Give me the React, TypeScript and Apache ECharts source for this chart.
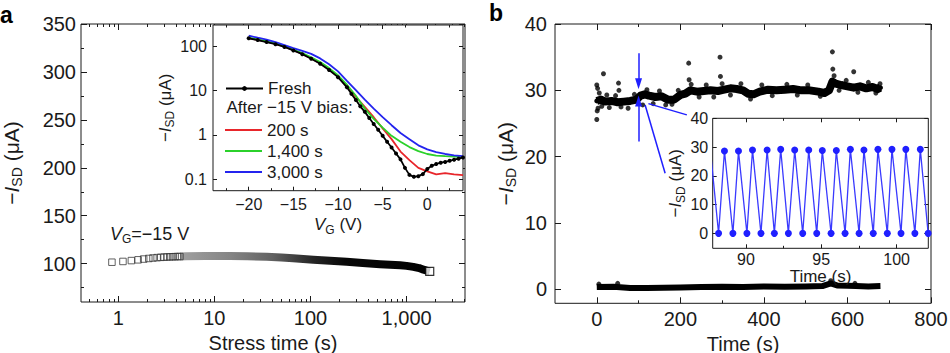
import React, { useEffect, useRef } from 'react';
import * as echarts from 'echarts';

const FONT = '"Liberation Sans", Arial, Helvetica, sans-serif';
const INK = '#1a1a1a';
const RED = '#e8262b';
const GREEN = '#2bd12b';
const BLUE = '#2424ee';
const MARK_BLUE = '#1f1fff';

// ---------- Panel a: drain current vs stress time ----------
const stressSparseT = [0.86, 1.12, 1.37, 1.61, 1.84, 2.08, 2.3, 2.54, 2.77, 3.0, 3.22, 3.44, 3.67, 3.91, 4.14, 4.38];
const stressSparseI = [101.5, 102.3, 103.2, 104, 104.8, 105.4, 105.9, 106.3, 106.6, 106.8, 107, 107.1, 107.2, 107.3, 107.4, 107.4];
const stressBandT = [4.4, 5.1, 8, 14.5, 22, 35, 50, 66, 107, 160, 238, 350, 530, 857, 1000, 1174, 1350, 1500, 1620, 1740];
const stressBandI = [107.4, 107.7, 107.9, 107.9, 107.6, 107.2, 106.4, 105.6, 104.1, 103, 101.9, 100.7, 99.4, 98.3, 97.7, 96.6, 95.4, 93.7, 92.8, 92];
const stressEndT = [1740];
const stressEndI = [92];
const stressLabels = [1, 10, 100, 1000];
const stressMinor = [0.5, 0.6, 0.7, 0.8, 0.9, 2, 3, 4, 5, 6, 7, 8, 9, 20, 30, 40, 50, 60, 70, 80, 90, 200, 300, 400, 500, 600, 700, 800, 900, 2000, 3000, 4000];
const currentALabels = [100, 150, 200, 250, 300, 350];
const currentAMinor = [75, 125, 175, 225, 275, 325];

// ---------- Panel a inset: transfer curves ----------
const gateV = [-20, -19, -18, -17, -16, -15, -14, -13, -12, -11, -10, -9, -8, -7, -6, -5, -4, -3, -2, -1, 0, 1, 2, 3, 4];
const bias200s = [152, 139, 126, 113, 98, 81, 67, 53, 41, 30, 20.5, 12.5, 7.2, 4.3, 2.5, 1.4, 0.8, 0.42, 0.27, 0.18, 0.15, 0.128, 0.137, 0.128, 0.124];
const bias1400s = [155, 142, 129, 116, 101, 84, 70, 56, 44, 32, 22, 13.5, 7.6, 3.9, 2.3, 1.45, 0.95, 0.7, 0.53, 0.43, 0.37, 0.34, 0.33, 0.325, 0.32];
const bias3000s = [172, 155, 140, 124, 106, 90, 78, 67, 53, 39, 27, 16.5, 10.2, 6.2, 3.9, 2.5, 1.65, 1.1, 0.8, 0.58, 0.47, 0.41, 0.37, 0.345, 0.33];
const freshV = [-20, -19, -18, -17, -16, -15, -14, -13, -12, -11, -10, -9, -8.5, -8, -7.5, -7, -6.5, -6, -5.5, -5, -4.5, -4, -3.5, -3, -2.5, -2, -1.5, -1, -0.5, 0, 0.5, 1, 1.5, 2, 2.5, 3, 3.5, 4];
const freshI = [150, 137, 124, 111, 96, 80, 66, 52, 40, 29, 20, 11.8, 8.4, 6.1, 4.4, 3.3, 2.4, 1.75, 1.3, 0.95, 0.7, 0.52, 0.38, 0.28, 0.18, 0.125, 0.113, 0.117, 0.13, 0.17, 0.2, 0.22, 0.235, 0.245, 0.26, 0.275, 0.29, 0.31];
const insetALogLabels = [0.1, 1, 10, 100];
const insetAVLabels = [-20, -15, -10, -5, 0];
const insetAVMinor = [-22.5, -17.5, -12.5, -7.5, -2.5, 2.5];

// ---------- Panel b: current vs time ----------
const onT = [0, 10, 20, 35, 50, 65, 80, 95, 105, 115, 125, 140, 155, 170, 185, 200, 212, 224, 240, 256, 272, 290, 305, 320, 335, 350, 362, 375, 390, 410, 430, 450, 470, 490, 510, 530, 545, 556, 564, 572, 585, 600, 615, 630, 645, 660, 672, 679];
const onI = [28.4, 28.6, 28.3, 28.4, 28.2, 28.3, 28.4, 28.6, 29.2, 29.4, 29.2, 29.0, 29.1, 28.6, 28.6, 29.3, 29.5, 30.0, 29.8, 29.9, 30.0, 29.9, 30.1, 30.3, 30.2, 30.0, 29.5, 29.4, 29.8, 30.1, 30.0, 30.1, 30.2, 30.0, 30.0, 29.8, 29.6, 30.0, 31.3, 31.0, 30.8, 30.6, 30.4, 30.6, 30.3, 30.5, 30.2, 30.4];
const onScatterT = [0, 1, 0, 2, 3, 6, 12, 16, 24, 30, 45, 52, 53, 58, 75, 90, 110, 120, 135, 150, 165, 180, 195, 220, 221, 226, 245, 262, 280, 295, 296, 300, 320, 345, 368, 395, 420, 455, 480, 505, 535, 564, 565, 568, 580, 597, 615, 625, 650, 668, 678];
const onScatterI = [25.6, 26.9, 30.8, 30.3, 27.3, 29.6, 27.6, 32.5, 29.3, 27.4, 29.2, 31.1, 30.0, 27.5, 27.3, 29.4, 27.8, 30.1, 28.0, 29.9, 27.8, 27.9, 30.0, 34.1, 31.6, 30.9, 29.0, 30.8, 29.0, 35.0, 32.1, 31.0, 29.3, 31.0, 28.7, 30.8, 29.2, 30.9, 29.3, 30.8, 29.1, 35.8, 33.2, 32.2, 30.0, 31.5, 32.8, 29.7, 31.2, 29.6, 31.0];
const offT = [0, 40, 80, 120, 160, 200, 250, 300, 350, 400, 450, 500, 540, 560, 575, 600, 620, 650, 679];
const offI = [0.35, 0.4, 0.2, 0.2, 0.25, 0.3, 0.35, 0.4, 0.35, 0.45, 0.4, 0.45, 0.5, 0.9, 0.6, 0.55, 0.5, 0.45, 0.5];
const offScatterT = [5, 50, 560, 618];
const offScatterI = [0.8, 0.9, 1.3, 0.9];
const timeBLabels = [0, 200, 400, 600, 800];
const timeBMinor = [100, 300, 500, 700];
const currentBLabels = [0, 10, 20, 30, 40];

// ---------- Panel b inset: switching ----------
const sweepT = [87.65, 88.19, 88.58, 89.14, 89.51, 90.07, 90.44, 91.0, 91.41, 91.89, 92.31, 92.82, 93.24, 93.77, 94.17, 94.7, 95.07, 95.65, 96.0, 96.58, 96.93, 97.51, 97.83, 98.45, 98.76, 99.38, 99.69, 100.29, 100.61, 101.21, 101.57, 102.09];
const sweepI = [28.8, 0, 28.6, 0, 28.6, 0, 29.0, 0, 29.0, 0, 29.2, 0, 29.0, 0, 29.0, 0, 28.8, 0, 28.8, 0, 29.2, 0, 29.0, 0, 29.2, 0, 29.2, 0, 29.2, 0, 29.2, 0];
const insetBTLabels = [90, 95, 100];
const insetBTMinor = [92.5, 97.5];
const insetBILabels = [0, 10, 20, 30, 40];

const pairs = (xs: number[], ys: number[]) => xs.map((x, i) => [x, ys[i]]);
const minus = (v: number) => (v < 0 ? '\u2212' + Math.abs(v) : String(v));

const richName = (size: number, sub: number) => ({
  fontSize: size,
  fontFamily: FONT,
  color: INK,
  lineHeight: size + 5,
  rich: {
    i: { fontSize: size, fontFamily: FONT, fontStyle: 'italic', color: INK, lineHeight: size + 5 },
    s: { fontSize: sub, fontFamily: FONT, color: INK, verticalAlign: 'bottom' },
  },
});

type AxisOpt = {
  grid: number;
  dim: 'x' | 'y';
  type: 'value' | 'log';
  min: number;
  max: number;
  majors: number[];
  minors?: number[];
  labels: number[];
  fmt?: (v: number) => string;
  fontSize: number;
  margin: number;
  z: number;
  majorLen: number;
  minorLen: number;
  name?: string;
  nameGap?: number;
  nameStyle?: any;
};

function makeAxes(o: AxisOpt) {
  const p0 = o.dim === 'x' ? 'bottom' : 'left';
  const p1 = o.dim === 'x' ? 'top' : 'right';
  const base: any = {
    gridIndex: o.grid,
    type: o.type,
    min: o.min,
    max: o.max,
    z: o.z,
    silent: true,
    splitLine: { show: false },
    axisLine: { show: false, onZero: false },
  };
  if (o.type === 'log') base.logBase = 10;
  const tick = (vals: number[], len: number) => ({
    show: true,
    inside: true,
    length: len,
    customValues: vals,
    lineStyle: { color: INK, width: 1 },
  });
  const main: any = {
    ...base,
    position: p0,
    axisTick: tick(o.majors, o.majorLen),
    axisLabel: {
      show: true,
      customValues: o.labels,
      formatter: o.fmt || ((v: number) => String(v)),
      fontSize: o.fontSize,
      fontFamily: FONT,
      color: INK,
      margin: o.margin,
    },
  };
  if (o.name) {
    main.name = o.name;
    main.nameLocation = 'middle';
    main.nameGap = o.nameGap;
    main.nameRotate = o.dim === 'y' ? 90 : 0;
    main.nameTextStyle = o.nameStyle;
  }
  const extras: any[] = [
    { ...base, position: p1, axisTick: tick(o.majors, o.majorLen), axisLabel: { show: false } },
  ];
  if (o.minors) {
    extras.push({ ...base, position: p0, axisTick: tick(o.minors, o.minorLen), axisLabel: { show: false } });
    extras.push({ ...base, position: p1, axisTick: tick(o.minors, o.minorLen), axisLabel: { show: false } });
  }
  return { main, extras };
}

function buildOption() {
  const g = { show: true, borderColor: INK, borderWidth: 1, containLabel: false, outerBoundsMode: 'none' };
  const grids = [
    { ...g, left: 81, top: 24, width: 384, height: 278, backgroundColor: 'transparent', z: 0 },
    { ...g, left: 213, top: 25, width: 250, height: 165.7, backgroundColor: '#fff', z: 1 },
    { ...g, left: 555, top: 24, width: 376, height: 279.3, backgroundColor: 'transparent', z: 0 },
    { ...g, left: 712.7, top: 118.3, width: 215.6, height: 130, backgroundColor: '#fff', z: 1 },
  ];

  const bottomTitle = { fontSize: 20, fontFamily: FONT, color: INK, lineHeight: 20 };

  const ax = {
    aX: makeAxes({ grid: 0, dim: 'x', type: 'log', min: 0.41, max: 4050, majors: stressLabels, minors: stressMinor, labels: stressLabels, fmt: (v) => Number(v).toLocaleString('en-US'), fontSize: 20, margin: 6, z: 0, majorLen: 6, minorLen: 3, name: 'Stress time (s)', nameGap: 27.5, nameStyle: bottomTitle }),
    aY: makeAxes({ grid: 0, dim: 'y', type: 'value', min: 60, max: 350, majors: currentALabels, minors: currentAMinor, labels: currentALabels, fontSize: 20, margin: 5, z: 0, majorLen: 6, minorLen: 3, name: '\u2212{i|I}{s|SD} (\u03bcA)', nameGap: 57, nameStyle: richName(21, 14) }),
    iaX: makeAxes({ grid: 1, dim: 'x', type: 'value', min: -24, max: 4, majors: insetAVLabels, minors: insetAVMinor, labels: insetAVLabels, fmt: minus, fontSize: 16, margin: 6, z: 3, majorLen: 4, minorLen: 2.5, name: '{i|V}{s|G} (V)', nameGap: 19, nameStyle: richName(17, 12) }),
    iaY: makeAxes({ grid: 1, dim: 'y', type: 'log', min: 0.055, max: 300, majors: insetALogLabels, labels: insetALogLabels, fmt: (v) => String(v), fontSize: 16, margin: 6, z: 3, majorLen: 4, minorLen: 2.5, name: '\u2212{i|I}{s|SD} (\u03bcA)', nameGap: 34.5, nameStyle: richName(17, 12) }),
    bX: makeAxes({ grid: 2, dim: 'x', type: 'value', min: -100, max: 800, majors: timeBLabels, minors: timeBMinor, labels: timeBLabels, fontSize: 20, margin: 6, z: 0, majorLen: 6, minorLen: 3, name: 'Time (s)', nameGap: 24.5, nameStyle: bottomTitle }),
    bY: makeAxes({ grid: 2, dim: 'y', type: 'value', min: -2.1, max: 40, majors: currentBLabels, labels: currentBLabels, fontSize: 20, margin: 8, z: 0, majorLen: 6, minorLen: 3, name: '\u2212{i|I}{s|SD} (\u03bcA)', nameGap: 37, nameStyle: richName(21, 14) }),
    ibX: makeAxes({ grid: 3, dim: 'x', type: 'value', min: 87.8, max: 102.1, majors: insetBTLabels, minors: insetBTMinor, labels: insetBTLabels, fontSize: 16, margin: 3, z: 3, majorLen: 4, minorLen: 2.5, name: 'Time (s)', nameGap: 14, nameStyle: { fontSize: 17, fontFamily: FONT, color: INK, lineHeight: 17 } }),
    ibY: makeAxes({ grid: 3, dim: 'y', type: 'value', min: -5.2, max: 40, majors: insetBILabels, labels: insetBILabels, fontSize: 16, margin: 4.5, z: 3, majorLen: 4, minorLen: 2.5, name: '\u2212{i|I}{s|SD} (\u03bcA)', nameGap: 23, nameStyle: richName(17, 12) }),
  };

  const xAxis = [ax.aX.main, ax.iaX.main, ax.bX.main, ax.ibX.main, ...ax.aX.extras, ...ax.iaX.extras, ...ax.bX.extras, ...ax.ibX.extras];
  const yAxis = [ax.aY.main, ax.iaY.main, ax.bY.main, ax.ibY.main, ...ax.aY.extras, ...ax.iaY.extras, ...ax.bY.extras, ...ax.ibY.extras];

  const bandGradient = new echarts.graphic.LinearGradient(0, 0, 1, 0, [
    { offset: 0, color: '#a0a0a0' },
    { offset: 0.2, color: '#858585' },
    { offset: 0.37, color: '#626262' },
    { offset: 0.53, color: '#262626' },
    { offset: 0.66, color: '#080808' },
    { offset: 1, color: '#000' },
  ]);

  const arrowLine = (from: number[], to: number[], arrow: boolean) => [
    { coord: from, symbol: 'none' },
    { coord: to, symbol: arrow ? 'triangle' : 'none', symbolSize: [7, 11] },
  ];

  const series: any[] = [
    // panel a main
    {
      type: 'line', name: 'stressBand', xAxisIndex: 0, yAxisIndex: 0, data: pairs(stressBandT, stressBandI),
      symbol: 'none', lineStyle: { width: 8, color: bandGradient, cap: 'butt', join: 'round' }, z: 2, silent: true,
    },
    {
      type: 'scatter', name: 'stressSparse', xAxisIndex: 0, yAxisIndex: 0, data: pairs(stressSparseT, stressSparseI),
      symbol: 'rect', symbolSize: 6.5, itemStyle: { color: 'rgba(255,255,255,0)', borderColor: '#3a3a3a', borderWidth: 1 }, z: 3, silent: true,
    },
    {
      type: 'scatter', name: 'stressEnd', xAxisIndex: 0, yAxisIndex: 0, data: pairs(stressEndT, stressEndI),
      symbol: 'rect', symbolSize: 8, itemStyle: { color: '#fff', borderColor: '#000', borderWidth: 1.2 }, z: 4, silent: true,
    },
    // panel a inset
    { type: 'line', name: '200 s', xAxisIndex: 1, yAxisIndex: 1, data: pairs(gateV, bias200s), symbol: 'none', lineStyle: { width: 1.8, color: RED }, itemStyle: { color: RED }, z: 4, silent: true },
    { type: 'line', name: '1,400 s', xAxisIndex: 1, yAxisIndex: 1, data: pairs(gateV, bias1400s), symbol: 'none', lineStyle: { width: 1.8, color: GREEN }, itemStyle: { color: GREEN }, z: 4, silent: true },
    { type: 'line', name: '3,000 s', xAxisIndex: 1, yAxisIndex: 1, data: pairs(gateV, bias3000s), symbol: 'none', lineStyle: { width: 1.8, color: BLUE }, itemStyle: { color: BLUE }, z: 4, silent: true },
    {
      type: 'line', name: 'Fresh', xAxisIndex: 1, yAxisIndex: 1, data: pairs(freshV, freshI),
      symbol: 'circle', symbolSize: 4, showAllSymbol: true, lineStyle: { width: 1.8, color: '#000' }, itemStyle: { color: '#000' }, z: 5, silent: true,
    },
    // panel b main
    {
      type: 'line', name: 'onBand', xAxisIndex: 2, yAxisIndex: 2, data: pairs(onT, onI),
      symbol: 'circle', symbolSize: 5, showAllSymbol: true, itemStyle: { color: '#000' }, lineStyle: { width: 8, color: '#000', join: 'round' }, z: 2, silent: true,
      markLine: {
        silent: true,
        animation: false,
        label: { show: false },
        lineStyle: { color: MARK_BLUE, width: 1.5, type: 'solid' },
        emphasis: { disabled: true },
        data: [
          arrowLine([100, 35.6], [100, 31.0], true),
          arrowLine([100, 22.3], [100, 28.4], true),
          arrowLine([123.6, 28.0], [215.6, 26.3], false),
          arrowLine([115.7, 27.8], [163.6, 17.5], false),
        ],
      },
    },
    {
      type: 'scatter', name: 'onScatter', xAxisIndex: 2, yAxisIndex: 2, data: pairs(onScatterT, onScatterI),
      symbol: 'circle', symbolSize: 5, itemStyle: { color: '#000' }, z: 2, silent: true,
    },
    {
      type: 'line', name: 'offBand', xAxisIndex: 2, yAxisIndex: 2, data: pairs(offT, offI),
      symbol: 'none', lineStyle: { width: 6, color: '#000', join: 'round' }, z: 2, silent: true,
    },
    {
      type: 'scatter', name: 'offScatter', xAxisIndex: 2, yAxisIndex: 2, data: pairs(offScatterT, offScatterI),
      symbol: 'circle', symbolSize: 5, itemStyle: { color: '#000' }, z: 2, silent: true,
    },
    // panel b inset
    {
      type: 'line', name: 'sweep', xAxisIndex: 3, yAxisIndex: 3, data: pairs(sweepT, sweepI),
      symbol: 'circle', symbolSize: 7, showAllSymbol: true, lineStyle: { width: 1.3, color: '#3a3aff' }, itemStyle: { color: MARK_BLUE }, z: 5, silent: true,
    },
  ];

  const legendText = { fontSize: 17, fontFamily: FONT, color: INK, lineHeight: 17 };

  return {
    animation: false,
    backgroundColor: '#fff',
    grid: grids,
    xAxis,
    yAxis,
    series,
    legend: [
      { data: ['Fresh'], left: 225, top: 80, orient: 'vertical', itemWidth: 37, itemHeight: 6, itemGap: 4, padding: 0, selectedMode: false, textStyle: legendText, z: 6 },
      {
        data: [
          { name: '200 s', icon: 'rect' },
          { name: '1,400 s', icon: 'rect' },
          { name: '3,000 s', icon: 'rect' },
        ],
        left: 225, top: 121.5, orient: 'vertical', itemWidth: 37, itemHeight: 2, itemGap: 4, padding: 0, selectedMode: false, textStyle: legendText, z: 6,
      },
    ],
    graphic: [
      { type: 'text', left: 0, top: 3, z: 10, style: { text: 'a', fontSize: 23, fontWeight: 'bold', fontFamily: FONT, fill: '#000' } },
      { type: 'text', left: 489, top: 1, z: 10, style: { text: 'b', fontSize: 23, fontWeight: 'bold', fontFamily: FONT, fill: '#000' } },
      { type: 'text', left: 226.5, top: 99, z: 10, style: { text: 'After \u221215 V bias:', fontSize: 17, fontFamily: FONT, fill: INK } },
      {
        type: 'text', left: 110, top: 222, z: 10,
        style: {
          text: '{i|V}{s|G}=\u221215 V',
          fontSize: 18, fontFamily: FONT, fill: INK, lineHeight: 23,
          rich: {
            i: { fontSize: 18, fontFamily: FONT, fontStyle: 'italic', fill: INK, lineHeight: 23 },
            s: { fontSize: 12, fontFamily: FONT, fill: INK, verticalAlign: 'bottom' },
          },
        },
      },
    ],
  };
}

export default function App() {
  const ref = useRef<HTMLDivElement>(null);
  useEffect(() => {
    if (!ref.current) return;
    const chart = echarts.init(ref.current, null, { renderer: 'svg' });
    chart.setOption(buildOption() as any);
    return () => chart.dispose();
  }, []);
  return (
    <div
      ref={ref}
      style={{ position: 'fixed', left: 0, top: 0, width: 950, height: 353, background: '#fff' }}
    />
  );
}
